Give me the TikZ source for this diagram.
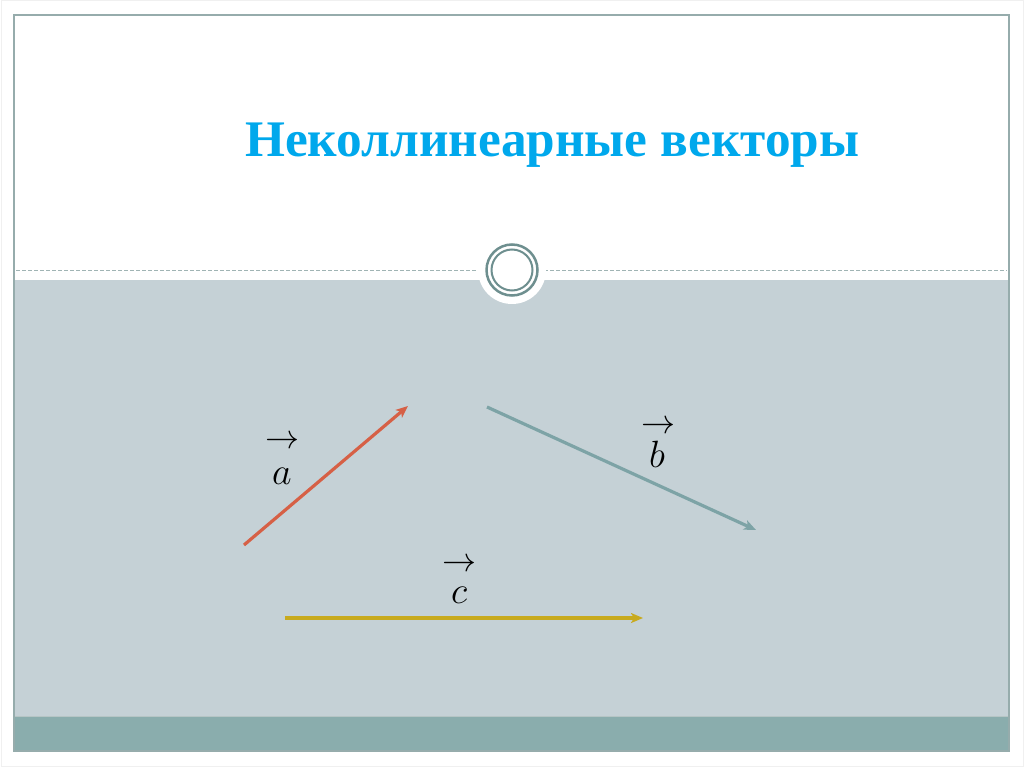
\RequirePackage{fix-cm}
\documentclass[tikz,border=0pt]{standalone}
\usepackage{fontspec}
\setmainfont{Liberation Serif}
\usetikzlibrary{arrows.meta}
\definecolor{titleblue}{RGB}{0,168,236}
\definecolor{panelgray}{RGB}{197,209,214}
\definecolor{bandteal}{RGB}{138,173,173}
\definecolor{framecol}{RGB}{150,172,172}
\definecolor{ringcol}{RGB}{110,143,143}
\definecolor{dashcol}{RGB}{160,180,180}
\definecolor{veca}{RGB}{214,96,70}
\definecolor{vecb}{RGB}{125,163,166}
\definecolor{vecc}{RGB}{200,170,30}
\tikzset{
  vecline/.style={line width=3.2pt, -{Stealth[length=12pt,width=10pt,inset=3pt]}},
  veclabel/.style={inner sep=0pt, font=\fontsize{34}{40}\selectfont},
  vecletter/.style={inner sep=0pt, font=\fontsize{38}{44}\selectfont},
}
\begin{document}
\begin{tikzpicture}[x=1pt,y=-1pt]
\useasboundingbox (0,0) rectangle (1024,767);
\fill[white] (0,0) rectangle (1024,767);
\draw[black!6, line width=1pt] (1,1) rectangle (1023,766);
% panels
\fill[panelgray] (14,280) rectangle (1009,716);
\fill[bandteal] (14,716) rectangle (1009,751);
\draw[framecol!70, line width=1pt] (14,716) -- (1009,716);
\draw[framecol, line width=1.2pt] (14,15) rectangle (1009,751);
% dashed separator
\draw[dashcol, dash pattern=on 4pt off 2pt, line width=1pt] (16,270) -- (1007,270);
% central badge
\fill[white] (512,270) circle[radius=34];
\draw[ringcol, line width=2.5pt] (512,270) circle[radius=25.5];
\draw[ringcol, line width=2pt] (512,270) circle[radius=20.5];
% title
\node[anchor=base west, inner sep=0pt, text=titleblue, font=\fontsize{51.3}{58}\selectfont\bfseries] (title) at (245,157) {Неколлинеарные векторы};
% vectors
\coordinate (a0) at (244,545);
\coordinate (a1) at (408,406);
\coordinate (b0) at (487,407);
\coordinate (b1) at (756,530);
\coordinate (c0) at (285,618);
\coordinate (c1) at (643,618);
\draw[vecline, veca] (a0) -- (a1);
\draw[vecline, vecb] (b0) -- (b1);
\draw[vecline, vecc] (c0) -- (c1);
% labels
\node[veclabel] (aarr) at (282,442) {$\rightarrow$};
\node[vecletter, anchor=base] (alab) at (282,484) {$a$};
\node[veclabel] (barr) at (658,427) {$\rightarrow$};
\node[vecletter, anchor=base] (blab) at (657,467) {$b$};
\node[veclabel] (carr) at (459,565) {$\rightarrow$};
\node[vecletter, anchor=base] (clab) at (459,603) {$c$};
\end{tikzpicture}
\end{document}
